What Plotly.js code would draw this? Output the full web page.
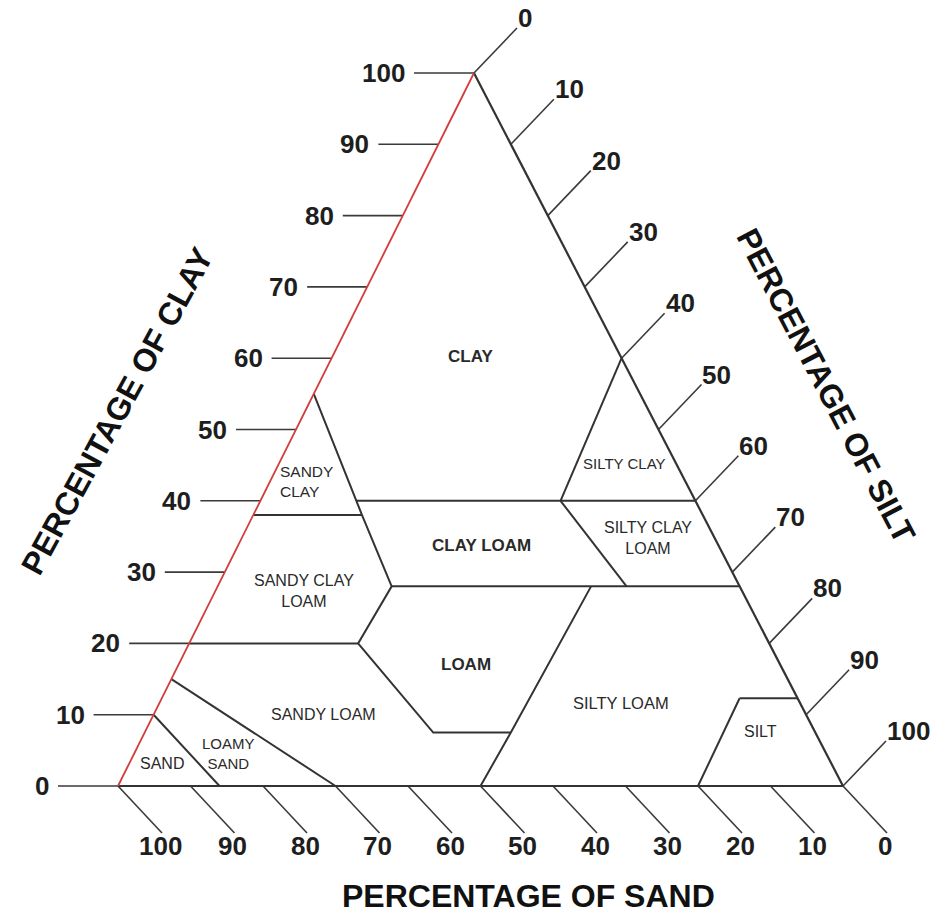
<!DOCTYPE html>
<html>
<head>
<meta charset="utf-8">
<script src="https://cdn.plot.ly/plotly-3.0.1.min.js"></script>
<style>html,body{margin:0;padding:0;background:#fff;}</style>
</head>
<body>
<div id="chart" style="width:932px;height:913px;"></div>
<script>
// ---------------- DATA (percentages) ----------------
const tickValues = [0, 10, 20, 30, 40, 50, 60, 70, 80, 90, 100];
const tickLabels = tickValues.map(String);

// texture-class boundary polylines: percent sand / percent clay
const clayLoamWestSand = [45, 47, 48, 56.7, 52.7, 42];
const clayLoamWestClay = [55, 38, 28, 20, 7.5, 7.5];
const siltLoamWestSand = [50, 42, 20.5];
const siltLoamWestClay = [0, 7.5, 28];
const clay40Sand = [46.8, 0];
const clay40Clay = [40, 40];
const sandyClayBaseSand = [62, 47];
const sandyClayBaseClay = [38, 38];
const clay28Sand = [48, 0];
const clay28Clay = [28, 28];
const clay20Sand = [80, 56.7];
const clay20Clay = [20, 20];
const siltTopSand = [8, 0];
const siltTopClay = [12.3, 12.3];
const siltyClayWestSand = [0, 18.6];
const siltyClayWestClay = [60, 40];
const siltyClayLoamWestSand = [18.6, 15.6];
const siltyClayLoamWestClay = [40, 28];
const siltWestSand = [8, 20];
const siltWestClay = [12.3, 0];
const sandEdgeSand = [90, 86];
const sandEdgeClay = [10, 0];
const loamySandEdgeSand = [85, 70];
const loamySandEdgeClay = [15, 0];

// texture-class names and where they sit (percent sand / percent clay)
const classNames = ["CLAY", "SANDY<br>CLAY", "SILTY CLAY", "CLAY LOAM", "SILTY CLAY<br>LOAM",
  "SANDY CLAY<br>LOAM", "LOAM", "SANDY LOAM", "SILTY LOAM", "SILT", "SAND", "LOAMY<br>SAND"];
const classSand = [20.8, 56.2, 7.1, 32.6, 9.2, 60.5, 43.4, 66.5, 24.7, 7.4, 92.3, 82.5];
const classClay = [60.2, 42.7, 45.3, 33.8, 34.8, 27.3, 17.0, 10.0, 11.6, 7.7, 3.2, 4.5];

// ---------------- GEOMETRY / STYLE ----------------
const APEX = 0.491;          // horizontal position of the 100% clay apex along the base
const PXX = 7.25, PXY = 7.13; // pixels per unit on x and y
const W = 932, H = 913, X0 = 118, Y0 = 786;
const toX = (sand, clay) => (100 - sand - clay) + APEX * clay;
const dx = px => px / PXX;
const dy = px => px / PXY;

const classSize = [17, 15.5, 15, 17, 16, 16, 17, 16, 16.5, 16, 16, 15];
const classBold = [true, false, false, true, false, false, true, false, false, false, false, false];

function addLine(xs, ys, sand, clay) {
  for (let i = 0; i < sand.length; i++) { xs.push(toX(sand[i], clay[i])); ys.push(clay[i]); }
  xs.push(null); ys.push(null);
}

// boundaries
const bx = [], by = [];
[[clayLoamWestSand, clayLoamWestClay], [siltLoamWestSand, siltLoamWestClay], [clay40Sand, clay40Clay],
 [sandyClayBaseSand, sandyClayBaseClay], [clay28Sand, clay28Clay], [clay20Sand, clay20Clay],
 [siltTopSand, siltTopClay], [siltyClayWestSand, siltyClayWestClay],
 [siltyClayLoamWestSand, siltyClayLoamWestClay], [siltWestSand, siltWestClay],
 [sandEdgeSand, sandEdgeClay], [loamySandEdgeSand, loamySandEdgeClay]]
  .forEach(p => addLine(bx, by, p[0], p[1]));

// triangle edges
const edgeX = [], edgeY = [];
addLine(edgeX, edgeY, [100, 0], [0, 0]);     // base (sand axis)
addLine(edgeX, edgeY, [0, 0], [100, 0]);     // right edge (silt axis)
const redX = [], redY = [];
addLine(redX, redY, [100, 0], [0, 100]);     // left edge (clay axis)

// ticks
const tx = [], ty = [];
const ann = [];
const tickFont = {family: "Liberation Sans, Arial, sans-serif", size: 26, color: "#1e1e1e"};
tickValues.forEach((v, i) => {
  // clay: horizontal ticks to the left of the left edge
  const cx = toX(100 - v, v);
  tx.push(cx, cx - dx(60), null); ty.push(v, v, null);
  ann.push({x: cx - dx(67), y: v, xref: "x", yref: "y", text: "<b>" + tickLabels[i] + "</b>",
    showarrow: false, xanchor: "right", yanchor: "middle", font: tickFont});
  // silt: ticks up-right from the right edge
  const sx = toX(0, 100 - v), sy = 100 - v;
  tx.push(sx, sx + dx(43), null); ty.push(sy, sy + dy(45), null);
  ann.push({x: sx + dx(42), y: sy + dy(45) + dy(10), xref: "x", yref: "y", text: "<b>" + tickLabels[i] + "</b>",
    showarrow: false, xanchor: "left", yanchor: "middle", font: tickFont});
  // sand: ticks down-right from the base
  const bxx = toX(v, 0);
  tx.push(bxx, bxx + dx(44), null); ty.push(0, -dy(47), null);
  ann.push({x: bxx + dx(42), y: -dy(47) - dy(13), xref: "x", yref: "y", text: "<b>" + tickLabels[i] + "</b>",
    showarrow: false, xanchor: "center", yanchor: "middle", font: tickFont});
});

classNames.forEach((n, i) => {
  const left = i === 1;
  ann.push({x: toX(classSand[i], classClay[i]), y: classClay[i], xref: "x", yref: "y",
    text: classBold[i] ? "<b>" + n + "</b>" : n, showarrow: false,
    xanchor: left ? "left" : "center", yanchor: "middle", align: left ? "left" : "center",
    font: {family: "Liberation Sans, Arial, sans-serif", size: classSize[i], color: "#2a2a2a"}});
});

const titleFont = {family: "Liberation Sans, Arial, sans-serif", size: 32, color: "#111"};
ann.push({x: 528 / W, y: 1 - 896 / H, xref: "paper", yref: "paper", text: "<b>PERCENTAGE OF SAND</b>",
  showarrow: false, xanchor: "center", yanchor: "middle", borderpad: 0, font: titleFont});
ann.push({x: 116.5 / W, y: 1 - 411.5 / H, xref: "paper", yref: "paper", text: "<b>PERCENTAGE OF CLAY</b>",
  showarrow: false, xanchor: "center", yanchor: "middle", textangle: -61.5, font: titleFont});
ann.push({x: 826.5 / W, y: 1 - 385.5 / H, xref: "paper", yref: "paper", text: "<b>PERCENTAGE OF SILT</b>",
  showarrow: false, xanchor: "center", yanchor: "middle", textangle: 62.5, font: titleFont});

const traces = [
  {x: tx, y: ty, mode: "lines", line: {color: "#3a3a3a", width: 1.6}, hoverinfo: "skip"},
  {x: bx, y: by, mode: "lines", line: {color: "#333", width: 2}, hoverinfo: "skip"},
  {x: edgeX, y: edgeY, mode: "lines", line: {color: "#333", width: 2.2}, hoverinfo: "skip"},
  {x: redX, y: redY, mode: "lines", line: {color: "#d23c3c", width: 1.8}, hoverinfo: "skip"}
];

const layout = {
  width: W, height: H, margin: {l: 0, r: 0, t: 0, b: 0},
  paper_bgcolor: "#fff", plot_bgcolor: "#fff", showlegend: false,
  xaxis: {range: [-X0 / PXX, (W - X0) / PXX], visible: false, fixedrange: true},
  yaxis: {range: [-(H - Y0) / PXY, Y0 / PXY], visible: false, fixedrange: true},
  annotations: ann
};

Plotly.newPlot("chart", traces, layout, {staticPlot: true, displayModeBar: false});
</script>
</body>
</html>
